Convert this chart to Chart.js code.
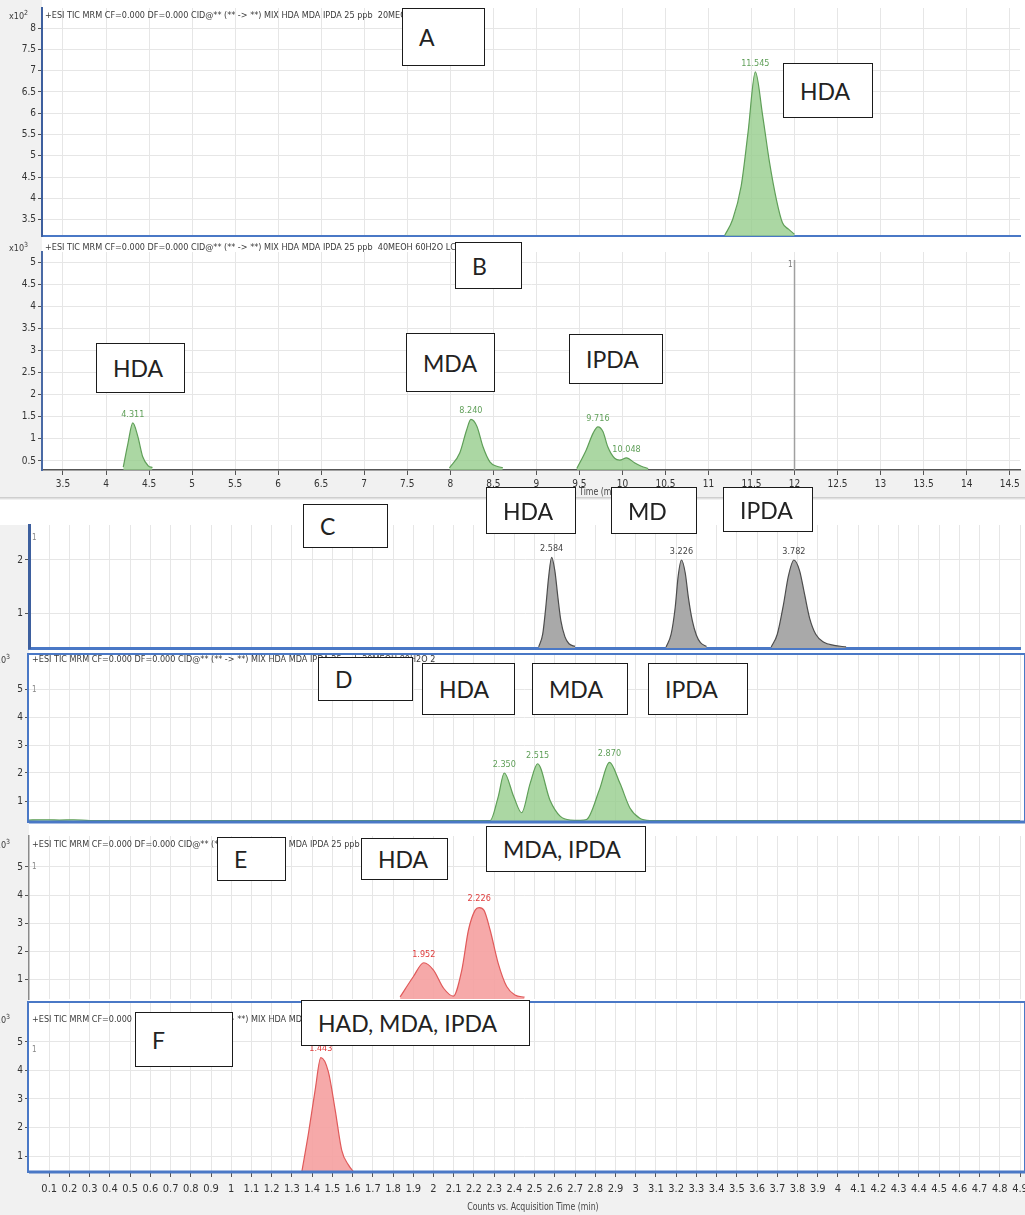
<!DOCTYPE html>
<html>
<head>
<meta charset="utf-8">
<title>MRM TIC chromatograms A-F</title>
<script src="https://cdn.jsdelivr.net/npm/chart.js@4.4.1/dist/chart.umd.min.js"></script>
<style>
  body { margin:0; background:#fff; }
  #wrap { position:relative; width:1025px; height:1215px; overflow:hidden; }
  #wrap canvas { position:absolute; left:0; }
  .box { position:absolute; box-sizing:border-box; background:#fff; border:1.5px solid #1b1b1b;
         font-family:Lato, "Open Sans", sans-serif; font-size:23px; color:#222;
         display:flex; align-items:center; padding-left:16px; white-space:nowrap; }
</style>
</head>
<body>
<div id="wrap">
  <canvas id="pA"></canvas>
  <canvas id="pB"></canvas>
  <canvas id="pC"></canvas>
  <canvas id="pD"></canvas>
  <canvas id="pE"></canvas>
  <canvas id="pF"></canvas>
</div>
<script>
// ---- tick labels ----
const abXTicks = [3.5,4,4.5,5,5.5,6,6.5,7,7.5,8,8.5,9,9.5,10,10.5,11,11.5,12,12.5,13,13.5,14,14.5];
const cfXTicks = [0.1,0.2,0.3,0.4,0.5,0.6,0.7,0.8,0.9,1,1.1,1.2,1.3,1.4,1.5,1.6,1.7,1.8,1.9,2,
                  2.1,2.2,2.3,2.4,2.5,2.6,2.7,2.8,2.9,3,3.1,3.2,3.3,3.4,3.5,3.6,3.7,3.8,3.9,4,
                  4.1,4.2,4.3,4.4,4.5,4.6,4.7,4.8,4.9];
const aYTicks = [3.5,4,4.5,5,5.5,6,6.5,7,7.5,8];
const bYTicks = [0.5,1,1.5,2,2.5,3,3.5,4,4.5,5];
const cYTicks = [1,2];
const dfYTicks = [1,2,3,4,5];

// ---- A: counts x10^2 ----
const aTime   = [11.19, 11.28, 11.38, 11.46, 11.545, 11.63, 11.71, 11.79, 11.86, 11.93, 12.0];
const aCounts = [3.14, 3.5, 4.29, 5.55, 6.97, 5.94, 4.84, 3.97, 3.43, 3.28, 3.16];
const aPeakTime = [11.545], aPeakCounts = [6.97];

// ---- B: counts x10^3 ----
const b1Time   = [4.20, 4.255, 4.311, 4.37, 4.425, 4.49, 4.54];
const b1Counts = [0.36, 0.9, 1.36, 1.05, 0.6, 0.39, 0.35];
const b2Time   = [7.99, 8.11, 8.19, 8.24, 8.31, 8.38, 8.46, 8.54, 8.61];
const b2Counts = [0.34, 0.68, 1.2, 1.44, 1.28, 0.82, 0.48, 0.38, 0.35];
const b3Time   = [9.47, 9.58, 9.66, 9.716, 9.775, 9.83, 9.91, 9.97, 10.048, 10.14, 10.22, 10.30];
const b3Counts = [0.33, 0.75, 1.13, 1.27, 1.16, 0.82, 0.56, 0.52, 0.57, 0.46, 0.38, 0.33];
const bPeakTime = [4.311, 8.240, 9.716, 10.048], bPeakCounts = [1.36, 1.44, 1.27, 0.57];
const bMarkTime = [12];

// ---- C ----
const c1Time   = [2.52, 2.54, 2.555, 2.57, 2.584, 2.60, 2.615, 2.63, 2.65, 2.67, 2.70];
const c1Counts = [0.36, 0.6, 1.1, 1.7, 2.05, 1.8, 1.3, 0.85, 0.55, 0.42, 0.37];
const c2Time   = [3.15, 3.175, 3.195, 3.21, 3.226, 3.245, 3.26, 3.28, 3.30, 3.32, 3.35];
const c2Counts = [0.36, 0.6, 1.1, 1.7, 2.0, 1.75, 1.3, 0.85, 0.58, 0.44, 0.37];
const c3Time   = [3.67, 3.70, 3.73, 3.755, 3.782, 3.81, 3.835, 3.86, 3.89, 3.93, 3.98, 4.04];
const c3Counts = [0.36, 0.6, 1.15, 1.7, 2.0, 1.8, 1.35, 0.9, 0.6, 0.45, 0.39, 0.36];
const cPeakTime = [2.584, 3.226, 3.782], cPeakCounts = [2.05, 2.0, 2.0];

// ---- D: counts x10^3 ----
const dTime   = [0, 0.05, 0.1, 0.15, 0.22, 0.3, 2.28, 2.32, 2.35, 2.397, 2.436, 2.478, 2.515, 2.576,
                 2.626, 2.676, 2.726, 2.757, 2.82, 2.87, 2.922, 2.972, 3.02, 3.07, 4.9];
const dCounts = [0.32, 0.33, 0.33, 0.32, 0.33, 0.3, 0.3, 1.15, 2.0, 1.15, 0.58, 1.63, 2.33, 1.03,
                 0.46, 0.32, 0.31, 0.34, 1.39, 2.38, 1.63, 0.74, 0.38, 0.3, 0.3];
const dPeakTime = [2.350, 2.515, 2.870], dPeakCounts = [2.0, 2.33, 2.38];

// ---- E: counts x10^3 ----
const eTime   = [1.835, 1.90, 1.952, 2.0, 2.05, 2.098, 2.14, 2.173, 2.206, 2.226, 2.25, 2.28, 2.32, 2.362, 2.403, 2.45];
const eCounts = [0.36, 1.08, 1.58, 1.32, 0.67, 0.39, 1.32, 2.75, 3.46, 3.55, 3.45, 2.75, 1.56, 0.73, 0.43, 0.35];
const ePeakTime = [1.952, 2.226], ePeakCounts = [1.58, 3.55];

// ---- F: counts x10^3 ----
const fTime   = [1.349, 1.382, 1.415, 1.443, 1.48, 1.514, 1.546, 1.58, 1.604];
const fCounts = [0.45, 1.8, 3.32, 4.45, 3.96, 2.61, 1.21, 0.68, 0.45];
const fPeakTime = [1.443], fPeakCounts = [4.45];

const TITLE = "+ESI TIC MRM CF=0.000 DF=0.000 CID@** (** -> **) MIX HDA MDA IPDA 25 ppb";
const NARROW = "'Liberation Sans Narrow', 'Arial Narrow', 'DejaVu Sans Condensed', 'Liberation Sans', sans-serif";
const GRAY = '#f1f1f1';
const BLUE = '#4a78c6';

// text boxes laid over the chromatograms
const boxes = [
  {t:'A', x:402, y:8, w:83, h:58},
  {t:'HDA', x:783, y:63, w:90, h:55},
  {t:'B', x:455, y:242, w:67, h:47},
  {t:'HDA', x:96, y:343, w:89, h:50},
  {t:'MDA', x:406, y:333, w:89, h:59},
  {t:'IPDA', x:569, y:334, w:94, h:50},
  {t:'C', x:303, y:504, w:85, h:44},
  {t:'HDA', x:486, y:487, w:90, h:47},
  {t:'MD', x:611, y:487, w:86, h:47},
  {t:'IPDA', x:723, y:487, w:90, h:45},
  {t:'D', x:318, y:657, w:95, h:44},
  {t:'HDA', x:422, y:663, w:93, h:52},
  {t:'MDA', x:532, y:663, w:96, h:52},
  {t:'IPDA', x:648, y:663, w:100, h:52},
  {t:'E', x:217, y:837, w:69, h:44},
  {t:'HDA', x:361, y:838, w:87, h:42},
  {t:'MDA, IPDA', x:486, y:826, w:160, h:46},
  {t:'F', x:135, y:1012, w:98, h:55},
  {t:'HAD, MDA, IPDA', x:301, y:1000, w:229, h:46}
];

function pts(ts, vs){ return ts.map((t,i)=>({x:t, y:vs[i]})); }
function fmt(v){ return String(Math.round(v*10)/10); }

function peak(ts, vs, line, fill){
  return { data: pts(ts, vs), borderColor: line, backgroundColor: fill, fill: 'start',
           borderWidth: 1.2, pointRadius: 0, cubicInterpolationMode: 'monotone' };
}
const GREEN = ['#5f9f58', 'rgba(150,205,140,0.8)'];
const GREY  = ['#4d4d4d', '#a9a9a9'];
const RED   = ['#e05a5a', 'rgba(245,160,160,0.9)'];

const decor = {
  id: 'decor',
  beforeDraw(chart, args, o){
    const c = chart.ctx, a = chart.chartArea, W = chart.width, H = chart.height;
    c.save();
    c.fillStyle = '#fff'; c.fillRect(0, 0, W, H);
    c.fillStyle = GRAY;
    c.fillRect(0, o.grayTop || 0, a.left, H);
    if (o.grayBottom) c.fillRect(0, a.bottom, W, H - a.bottom);
    if (o.sepLine) { c.fillStyle = '#cfcfcf'; c.fillRect(0, H - 3, W, 1.5); }
    c.restore();
  },
  afterDatasetsDraw(chart, args, o){
    const c = chart.ctx, a = chart.chartArea, xs = chart.scales.x, ys = chart.scales.y;
    c.save();
    (o.marks || []).forEach(t => {
      const x = xs.getPixelForValue(t);
      c.strokeStyle = '#a0a0a0'; c.lineWidth = 1.5;
      c.beginPath(); c.moveTo(x, a.top + 8); c.lineTo(x, a.bottom); c.stroke();
      c.fillStyle = '#777'; c.font = '8px ' + NARROW; c.textAlign = 'right'; c.textBaseline = 'middle';
      c.fillText('1', x - 2, a.top + 13);
    });
    if (o.peaks) {
      c.font = '9px ' + NARROW; c.fillStyle = o.peaks.color;
      c.textAlign = 'center'; c.textBaseline = 'bottom';
      o.peaks.t.forEach((t, i) => {
        c.fillText(t.toFixed(3), xs.getPixelForValue(t), ys.getPixelForValue(o.peaks.v[i]) - 4);
      });
    }
    c.restore();
  },
  afterDraw(chart, args, o){
    const c = chart.ctx, a = chart.chartArea;
    c.save();
    if (o.frame) {
      c.strokeStyle = BLUE; c.lineWidth = 2;
      c.strokeRect(a.left - 1, a.top, a.right - a.left + 6, a.bottom - a.top);
      c.lineWidth = 3; c.beginPath(); c.moveTo(a.left, a.bottom); c.lineTo(chart.width, a.bottom); c.stroke();
    }
    c.fillStyle = '#3a3a3a'; c.textBaseline = 'middle'; c.textAlign = 'left';
    if (o.title) { c.font = '9px ' + NARROW; c.fillText(o.title, a.left + 3, o.titleY); }
    if (o.exp) {
      c.font = '9px ' + NARROW; c.fillText('x10', o.expX, o.titleY + 1);
      c.font = '7px ' + NARROW; c.fillText(o.exp, o.expX + 15, o.titleY - 3);
    }
    if (o.one) { c.fillStyle = '#888'; c.font = '8px ' + NARROW; c.fillText('1', a.left + 3, o.one); }
    if (o.axisTitle) {
      // condensed axis caption, like the instrument software's narrow font
      c.fillStyle = '#444'; c.font = '10px ' + NARROW; c.textAlign = 'center';
      c.translate(o.axisTitle[0], o.axisTitle[1]); c.scale(0.87, 1);
      c.fillText('Counts vs. Acquisition Time (min)', 0, 0);
    }
    c.restore();
  }
};

function makePanel(id, g, s){
  const cv = document.getElementById(id);
  cv.width = 1025; cv.height = g.h; cv.style.top = g.top + 'px';
  const tickFont = { family: NARROW, size: s.tickSize || 10 };
  return new Chart(cv, {
    type: 'line',
    data: { datasets: s.datasets },
    options: {
      responsive: false, animation: false, devicePixelRatio: 1,
      layout: { padding: { top: g.areaTop, right: 5, left: 0, bottom: 0 } },
      plugins: { legend: { display: false }, tooltip: { enabled: false }, decor: s.decor },
      scales: {
        x: {
          type: 'linear', min: s.xmin, max: s.xmax,
          afterBuildTicks: sc => { sc.ticks = s.xticks.map(v => ({ value: v })); },
          afterFit: sc => { sc.height = g.h - g.areaBottom; sc.paddingLeft = 0; sc.paddingRight = 0; },
          grid: { color: '#e6e6e6', drawTicks: !!s.xLabels, tickLength: 5, tickColor: '#555' },
          border: s.xBorder || { display: false },
          ticks: { display: !!s.xLabels, autoSkip: false, maxRotation: 0, padding: s.xPad || 3,
                   font: tickFont, color: '#333', callback: v => fmt(v) }
        },
        y: {
          min: s.ymin, max: s.ymax,
          afterBuildTicks: sc => { sc.ticks = s.yticks.map(v => ({ value: v })); },
          afterFit: sc => { sc.width = g.areaLeft; sc.paddingTop = 0; sc.paddingBottom = 0; },
          grid: { color: '#e6e6e6', drawTicks: true, tickLength: 4, tickColor: '#555' },
          border: s.yBorder || { display: false },
          ticks: { padding: 2, font: { family: NARROW, size: 10 }, color: '#333', callback: v => fmt(v) }
        }
      }
    },
    plugins: [decor]
  });
}

makePanel('pA', { top: 0, h: 240, areaLeft: 42, areaTop: 8, areaBottom: 236 }, {
  datasets: [peak(aTime, aCounts, GREEN[0], GREEN[1])],
  xmin: 3.256, xmax: 14.62, xticks: abXTicks, ymin: 3.12, ymax: 8.47, yticks: aYTicks,
  xBorder: { color: BLUE, width: 2 }, yBorder: { color: '#3d5f9e', width: 2 },
  decor: { title: TITLE + '  20MEOH 80H2O', titleY: 16, exp: '2', expX: 9,
           peaks: { t: aPeakTime, v: aPeakCounts, color: '#5f9f58' } }
});

makePanel('pB', { top: 240, h: 260, areaLeft: 42, areaTop: 12, areaBottom: 230 }, {
  datasets: [peak(b1Time, b1Counts, GREEN[0], GREEN[1]), peak(b2Time, b2Counts, GREEN[0], GREEN[1]),
             peak(b3Time, b3Counts, GREEN[0], GREEN[1])],
  xmin: 3.256, xmax: 14.62, xticks: abXTicks, xLabels: true, ymin: 0.295, ymax: 5.227, yticks: bYTicks,
  xBorder: { color: '#555', width: 1.5 }, yBorder: { color: '#4a6aa5', width: 2 },
  decor: { title: TITLE + '  40MEOH 60H2O LC', titleY: 8, exp: '3', expX: 9, grayBottom: true,
           sepLine: true, marks: bMarkTime, axisTitle: [556, 252],
           peaks: { t: bPeakTime, v: bPeakCounts, color: '#5f9f58' } }
});

makePanel('pC', { top: 500, h: 152, areaLeft: 29, areaTop: 25, areaBottom: 148 }, {
  datasets: [peak(c1Time, c1Counts, GREY[0], GREY[1]), peak(c2Time, c2Counts, GREY[0], GREY[1]),
             peak(c3Time, c3Counts, GREY[0], GREY[1])],
  xmin: 0, xmax: 4.9, xticks: cfXTicks, ymin: 0.34, ymax: 2.66, yticks: cYTicks,
  xBorder: { color: BLUE, width: 3 }, yBorder: { color: '#3d5f9e', width: 3 },
  decor: { grayTop: 25, one: 38,
           peaks: { t: cPeakTime, v: cPeakCounts, color: '#444' } }
});

makePanel('pD', { top: 652, h: 178, areaLeft: 29, areaTop: 2, areaBottom: 170 }, {
  datasets: [peak(dTime, dCounts, GREEN[0], GREEN[1])],
  xmin: 0, xmax: 4.9, xticks: cfXTicks, ymin: 0.25, ymax: 6.25, yticks: dfYTicks,
  decor: { frame: true, title: TITLE + ' 20MEOH 80H2O 2', titleY: 8, exp: '3', expX: -9, one: 38,
           peaks: { t: dPeakTime, v: dPeakCounts, color: '#5f9f58' } }
});

makePanel('pE', { top: 830, h: 170, areaLeft: 29, areaTop: 6, areaBottom: 169 }, {
  datasets: [peak(eTime, eCounts, RED[0], RED[1])],
  xmin: 0, xmax: 4.9, xticks: cfXTicks, ymin: 0.286, ymax: 6.107, yticks: dfYTicks,
  yBorder: { color: '#8a8a8a', width: 1.5 },
  decor: { title: TITLE, titleY: 15, exp: '3', expX: -9, one: 37,
           peaks: { t: ePeakTime, v: ePeakCounts, color: '#e03c3c' } }
});

makePanel('pF', { top: 1000, h: 215, areaLeft: 29, areaTop: 2, areaBottom: 172 }, {
  datasets: [peak(fTime, fCounts, RED[0], RED[1])],
  xmin: 0, xmax: 4.9, xticks: cfXTicks, xLabels: true, tickSize: 11, xPad: 6,
  ymin: 0.44, ymax: 6.4, yticks: dfYTicks,
  decor: { frame: true, grayBottom: true, title: TITLE, titleY: 20, exp: '3', expX: -9, one: 50,
           axisTitle: [533, 207],
           peaks: { t: fPeakTime, v: fPeakCounts, color: '#e03c3c' } }
});

const wrap = document.getElementById('wrap');
boxes.forEach(b => {
  const d = document.createElement('div');
  d.className = 'box';
  d.style.left = b.x + 'px'; d.style.top = b.y + 'px';
  d.style.width = b.w + 'px'; d.style.height = b.h + 'px';
  d.textContent = b.t;
  wrap.appendChild(d);
});
</script>
</body>
</html>
